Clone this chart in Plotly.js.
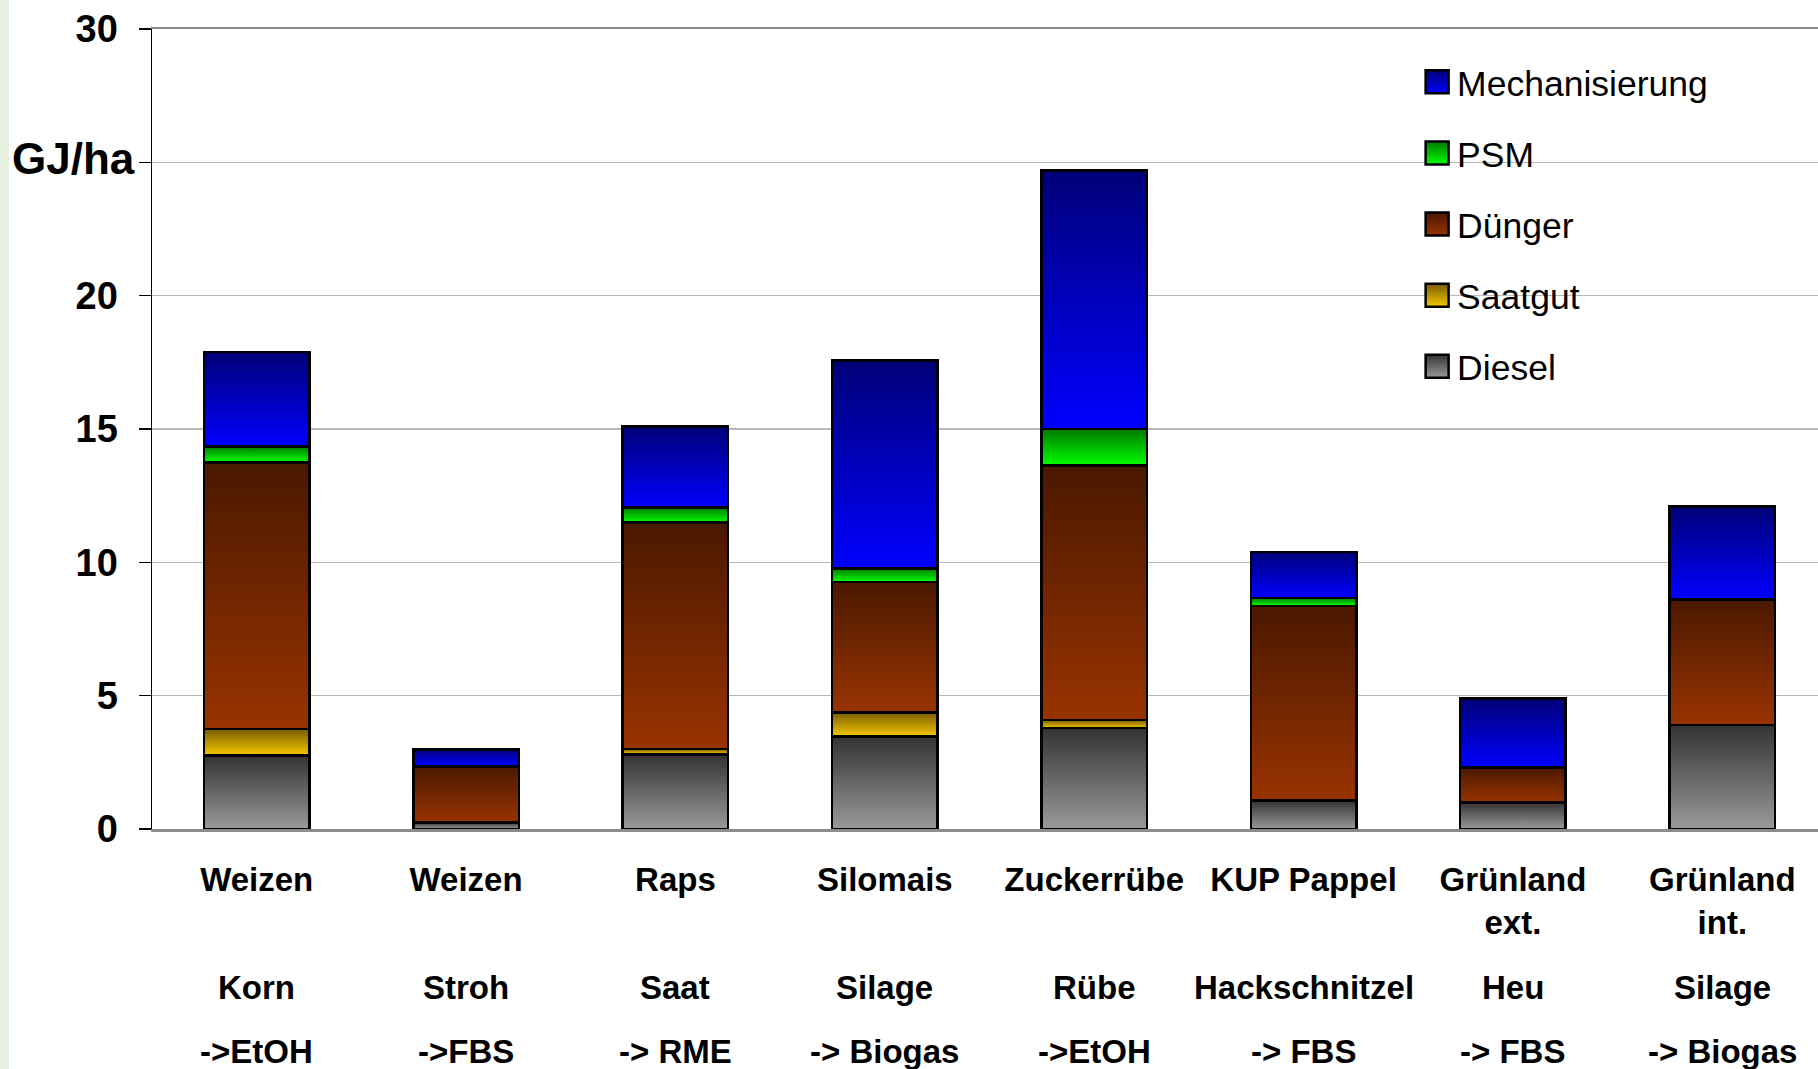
<!DOCTYPE html>
<html>
<head>
<meta charset="utf-8">
<script src="https://cdn.plot.ly/plotly-3.0.1.min.js"></script>
<style>
  html, body { margin: 0; padding: 0; background: #ffffff; }
  #chart { width: 1818px; height: 1069px; position: relative; }
  #strip { position: absolute; left: 0; top: 0; width: 9px; height: 1069px; background: #e8f0e2; z-index: 5; }
</style>
</head>
<body>
<div id="strip"></div>
<div id="chart"></div>
<script>
// ---- data ----
const crops    = ['Weizen', 'Weizen', 'Raps', 'Silomais', 'Zuckerrübe', 'KUP Pappel', 'Grünland<br>ext.', 'Grünland<br>int.'];
const products = ['Korn', 'Stroh', 'Saat', 'Silage', 'Rübe', 'Hackschnitzel', 'Heu', 'Silage'];
const routes   = ['->EtOH', '->FBS', '-> RME', '-> Biogas', '->EtOH', '-> FBS', '-> FBS', '-> Biogas'];

const diesel  = [2.75, 0.25, 2.8, 3.47, 3.78, 1.06, 1.0, 3.9];
const saatgut = [1.0, 0, 0.2, 0.9, 0.3, 0, 0, 0];
const duenger = [10.0, 2.1, 8.5, 4.9, 9.55, 7.31, 1.3, 4.7];
const psm     = [0.6, 0, 0.55, 0.5, 1.37, 0.29, 0, 0];
const mech    = [3.53, 0.63, 3.05, 7.8, 9.7, 1.73, 2.6, 3.5];

const seriesNames = ['Diesel', 'Saatgut', 'Dünger', 'PSM', 'Mechanisierung'];
const seriesVals  = [diesel, saatgut, duenger, psm, mech];
const yTicks      = [0, 5, 10, 15, 20, 25, 30];
const yTickLabels = ['0', '5', '10', '15', '20', '', '30'];
const yUnit       = 'GJ/ha';

// ---- styles ----
const solid = ['#666666', '#c09000', '#7a2a00', '#00b000', '#0000c0'];
const grads = [
  ['#333333', '#9a9a9a'],
  ['#7a5c00', '#f5c800'],
  ['#4a1800', '#993300'],
  ['#007a00', '#00ff00'],
  ['#000078', '#0000ff']
];
const FONT = 'Liberation Sans, Arial, sans-serif';
const xpos = crops.map((_, i) => i);

const traces = seriesVals.map((vals, k) => ({
  type: 'bar',
  name: seriesNames[k],
  x: xpos,
  y: vals,
  legendgroup: 'g' + k,
  legendrank: 100 - k,
  marker: { color: solid[k], line: { color: '#000000', width: 2.5 } },
  hoverinfo: 'name+y'
}));

const annotations = [];
products.forEach((t, i) => annotations.push({
  xref: 'x', yref: 'y', x: i, y: 0, text: t, showarrow: false,
  yanchor: 'middle', xanchor: 'center', yshift: -158,
  font: { family: FONT, size: 33, color: '#000', weight: 'bold' }
}));
routes.forEach((t, i) => annotations.push({
  xref: 'x', yref: 'y', x: i, y: 0, text: t, showarrow: false,
  yanchor: 'middle', xanchor: 'center', yshift: -222,
  font: { family: FONT, size: 33, color: '#000', weight: 'bold' }
}));
annotations.push({
  xref: 'paper', yref: 'y', x: 0, y: 25, text: yUnit, showarrow: false,
  xanchor: 'right', yanchor: 'middle', xshift: -15, yshift: 4,
  font: { family: FONT, size: 44, color: '#000', weight: 'bold' }
});

const plotLeft = 151.5, plotRight = 1818, catW = 209.44;
const xMax = -0.5 + (plotRight - plotLeft) / catW;
const px2paper = p => (p - plotLeft) / (plotRight - plotLeft);

const layout = {
  width: 1818, height: 1069,
  margin: { l: plotLeft, r: 0, t: 29, b: 240, pad: 0 },
  paper_bgcolor: '#ffffff', plot_bgcolor: '#ffffff',
  barmode: 'stack', bargap: 0.496,
  showlegend: true,
  font: { family: FONT, color: '#000' },
  xaxis: {
    range: [-0.5, xMax], tickmode: 'array', tickvals: xpos, ticktext: crops,
    showgrid: false, zeroline: false, showline: true, linecolor: '#8c8c8c', linewidth: 2.5,
    mirror: true, ticks: '', ticklabelstandoff: 20, automargin: false,
    tickfont: { family: FONT, size: 33, color: '#000', weight: 'bold' }, fixedrange: true
  },
  yaxis: {
    range: [0, 30], tickmode: 'array', tickvals: yTicks, ticktext: yTickLabels,
    showgrid: true, gridcolor: '#b8b8b8', gridwidth: 1.5, zeroline: false,
    showline: true, linecolor: '#000000', linewidth: 1.5,
    ticks: 'outside', ticklen: 12, tickwidth: 1.5, tickcolor: '#000',
    ticklabelstandoff: 13, automargin: false,
    tickfont: { family: FONT, size: 38, color: '#000', weight: 'bold' }, fixedrange: true
  },
  legend: {
    x: px2paper(1417), xanchor: 'left', y: 0.971, yanchor: 'top',
    traceorder: 'grouped', tracegroupgap: 22,
    bgcolor: 'rgba(0,0,0,0)', borderwidth: 0,
    font: { family: FONT, size: 35.5, color: '#000' }
  },
  shapes: [{
    type: 'rect', layer: 'between', xref: 'paper', yref: 'y',
    x0: px2paper(1353), x1: px2paper(1775), y0: 16.5, y1: 28.8,
    fillcolor: '#ffffff', line: { width: 0 }
  }],
  annotations: annotations
};

const gd = document.getElementById('chart');

function applyGradients() {
  const svg = gd.querySelector('.main-svg');
  if (!svg) return;
  let defs = svg.querySelector('defs');
  if (!defs) { defs = document.createElementNS('http://www.w3.org/2000/svg', 'defs'); svg.insertBefore(defs, svg.firstChild); }
  grads.forEach((g, k) => {
    const id = 'barGrad' + k;
    if (svg.querySelector('#' + id)) return;
    const lg = document.createElementNS('http://www.w3.org/2000/svg', 'linearGradient');
    lg.setAttribute('id', id);
    lg.setAttribute('x1', '0'); lg.setAttribute('y1', '0');
    lg.setAttribute('x2', '0'); lg.setAttribute('y2', '1');
    [[0, g[0]], [1, g[1]]].forEach(([o, c]) => {
      const st = document.createElementNS('http://www.w3.org/2000/svg', 'stop');
      st.setAttribute('offset', String(o));
      st.setAttribute('stop-color', c);
      lg.appendChild(st);
    });
    defs.appendChild(lg);
  });
  const barTraces = gd.querySelectorAll('.barlayer .trace.bars');
  barTraces.forEach((tg, j) => {
    let idx = j;
    try { if (tg.__data__ && tg.__data__[0] && tg.__data__[0].trace) idx = tg.__data__[0].trace.index; } catch (e) {}
    tg.querySelectorAll('path').forEach(p => { p.style.fill = 'url(#barGrad' + idx + ')'; });
  });
  gd.querySelectorAll('.legend .traces').forEach(tg => {
    let idx = null;
    try { idx = tg.__data__[0][0].trace.index; } catch (e) {}
    if (idx === null || idx === undefined) { try { idx = tg.__data__[0].trace.index; } catch (e) {} }
    tg.querySelectorAll('.legendpoints path').forEach(p => {
      p.setAttribute('d', 'M11.5,11.5H-11.5V-11.5H11.5Z');
      p.style.strokeWidth = '2.5px';
      p.style.stroke = '#000';
      if (idx !== null && idx !== undefined) p.style.fill = 'url(#barGrad' + idx + ')';
    });
  });
}

Plotly.newPlot(gd, traces, layout, { displayModeBar: false, staticPlot: true }).then(() => {
  applyGradients();
  gd.on && gd.on('plotly_afterplot', applyGradients);
  setTimeout(applyGradients, 50);
});
</script>
</body>
</html>
